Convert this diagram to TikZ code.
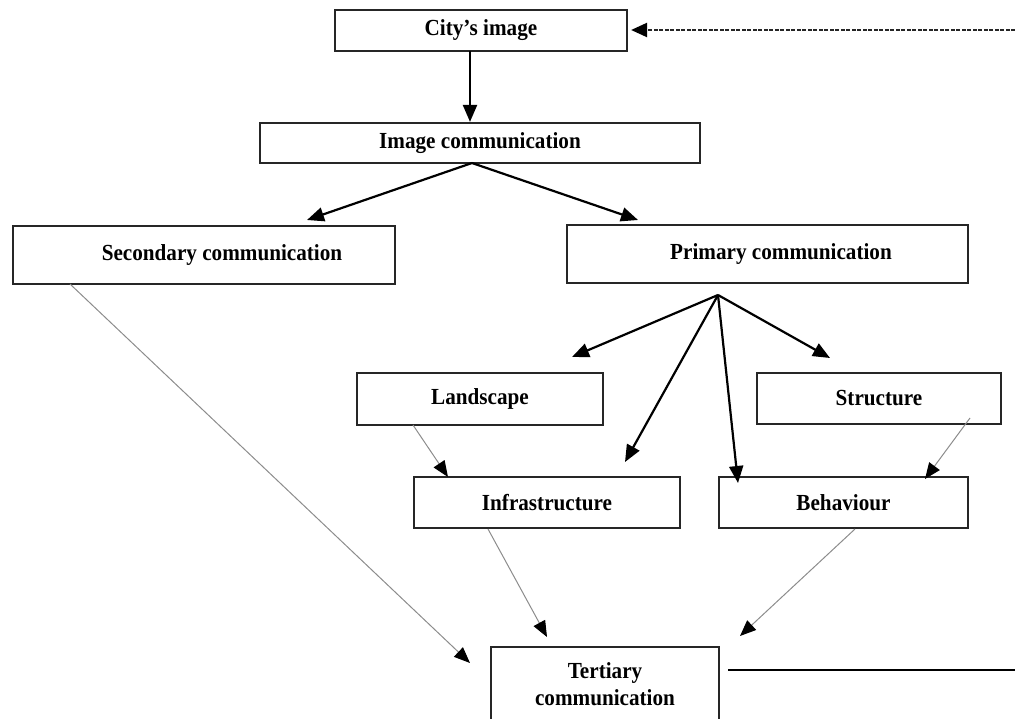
\documentclass[tikz,border=0pt]{standalone}
\usepackage{fontspec}
\setmainfont{Liberation Serif}
\newfontfamily\boxfont[FakeStretch=0.92,Ligatures=TeX]{Liberation Serif}
\usetikzlibrary{arrows.meta}
\begin{document}
\begin{tikzpicture}[x=1pt,y=-1pt,
  box/.style={draw=black!85, line width=2.2pt, inner sep=0pt, fill=white,
    font=\boxfont\bfseries\fontsize{23}{27}\selectfont},
  blk/.style={draw=black, line width=2.2pt, -{Triangle[length=17pt,width=14pt]}},
  gry/.style={draw=black!45, line width=1pt, -{Triangle[length=16pt,width=13pt,color=black]}},
  dsh/.style={draw=black!85, line width=2.2pt, dash pattern=on 4pt off 1.5pt, -{Triangle[length=16pt,width=14pt,color=black]}},
  plain/.style={draw=black, line width=1.8pt}
]
\useasboundingbox (0,0) rectangle (1015,719);

% boxes
\node[box, minimum width=292pt, minimum height=41pt] (city) at (481,30.5) {City’s image};
\node[box, minimum width=440pt, minimum height=40pt] (imgcomm) at (480,143) {Image communication};
\node[box, minimum width=382pt, minimum height=58pt] (sec) at (204,255) {\hspace*{36pt}Secondary communication};
\node[box, minimum width=401pt, minimum height=58pt] (prim) at (767.5,254) {\hspace*{27pt}Primary communication};
\node[box, minimum width=246pt, minimum height=52pt] (land) at (480,399) {Landscape};
\node[box, minimum width=244pt, minimum height=51pt] (struct) at (879,398.5) {Structure};
\node[box, minimum width=266pt, minimum height=51pt] (infra) at (547,502.5) {Infrastructure};
\node[box, minimum width=249pt, minimum height=51pt] (behav) at (843.5,502.5) {Behaviour};
\node[box, minimum width=228pt, minimum height=74pt, align=center] (tert) at (605,684) {Tertiary\\communication};

% coordinates
\coordinate (cs) at (470,51);
\coordinate (ic) at (472,163);
\coordinate (t1) at (307,220);
\coordinate (t2) at (638,220);
\coordinate (fan) at (718,295);
\coordinate (tL) at (572,357);
\coordinate (tS) at (830,358);
\coordinate (tI) at (625,462);
\coordinate (tB) at (738,483);
\coordinate (secS) at (70,284);
\coordinate (landS) at (413,425);
\coordinate (strS) at (970,418);
\coordinate (infS) at (488,529);
\coordinate (behS) at (855,529);
\coordinate (tSec) at (470,663);
\coordinate (tInf) at (547,637);
\coordinate (tBeh) at (740,636);
\coordinate (tLand) at (448,477);
\coordinate (tStr) at (925,479);
\coordinate (rt) at (1015,30);
\coordinate (lb) at (728,670);
\coordinate (rb) at (1015,670);

% black arrows
\draw[blk] (cs) -- (cs |- imgcomm.north);
\draw[blk] (ic) -- (t1);
\draw[blk] (ic) -- (t2);
\draw[blk] (fan) -- (tL);
\draw[blk] (fan) -- (tS);
\draw[blk] (fan) -- (tI);
\draw[blk] (fan) -- (tB);

% gray arrows
\draw[gry] (secS) -- (tSec);
\draw[gry] (landS) -- (tLand);
\draw[gry] (strS) -- (tStr);
\draw[gry] (infS) -- (tInf);
\draw[gry] (behS) -- (tBeh);

% feedback lines
\draw[dsh, shorten >=3pt] (rt) -- (city.east |- rt);
\draw[plain] (lb) -- (rb);
\end{tikzpicture}
\end{document}
